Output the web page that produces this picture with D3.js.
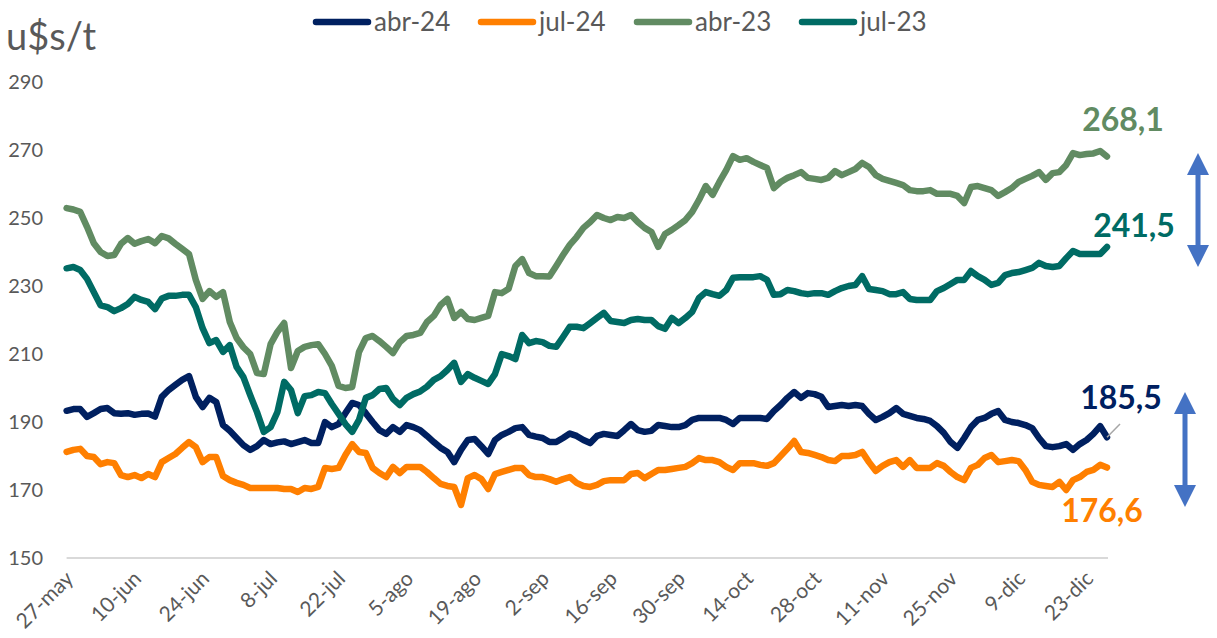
<!DOCTYPE html>
<html><head><meta charset="utf-8">
<script src="https://cdn.jsdelivr.net/npm/d3@7"></script>
<style>body{margin:0;background:#fff} svg{display:block} text{font-family:Lato,"Open Sans",sans-serif}</style>
</head><body><svg id="c" width="1217" height="638"></svg>
<script>
const tickLabels = ["27-may","10-jun","24-jun","8-jul","22-jul","5-ago","19-ago","2-sep","16-sep","30-sep","14-oct","28-oct","11-nov","25-nov","9-dic","23-dic"];
const tickIndex = [0,10,20,30,40,50,60,70,80,90,100,110,120,130,140,150];
const yTicks = [150,170,190,210,230,250,270,290];
const seriesNames = ["abr-24","jul-24","abr-23","jul-23"];
const seriesColors = ["#002060","#FF7F00","#618B62","#006B64"];
const endLabels = ["185,5","176,6","268,1","241,5"];

const abr24 = [193.3,193.8,193.8,191.5,192.6,193.8,194.1,192.6,192.4,192.6,192.1,192.4,192.5,191.6,197.4,199.4,200.9,202.4,203.5,197.4,
194.4,197.1,195.9,189.1,187.4,185.3,183.2,181.8,182.9,184.7,183.5,184.0,184.3,183.5,184.1,184.7,183.8,183.8,190.0,188.5,
189.4,192.6,195.6,195.0,192.6,190.0,187.6,186.5,188.5,187.1,189.1,188.5,187.6,185.9,184.1,182.4,181.2,178.2,181.8,184.7,
185.0,182.9,180.6,184.7,186.2,187.1,188.2,188.5,186.2,185.7,185.3,184.1,184.1,185.3,186.6,185.9,184.7,183.8,185.9,186.5,
186.2,185.9,187.6,189.4,187.6,187.1,187.4,189.1,188.8,188.5,188.5,189.1,190.6,191.2,191.2,191.2,191.2,190.6,189.4,191.2,
191.2,191.2,191.2,190.9,193.2,195.0,197.1,198.8,197.1,198.5,198.2,197.4,194.4,194.7,195.0,194.7,195.0,194.7,192.4,190.6,
191.5,192.6,194.1,192.4,191.8,191.2,190.9,190.3,188.8,186.8,184.1,182.4,185.3,188.5,190.6,191.2,192.4,193.2,190.6,190.0,
189.7,189.1,188.2,185.3,182.9,182.6,182.9,183.5,181.8,183.5,184.7,186.5,188.8,185.5];

const jul24 = [181.2,181.8,182.1,180.0,179.7,177.6,178.2,177.9,174.4,173.8,174.4,173.5,174.7,173.8,178.2,179.4,180.6,182.4,184.1,182.6,
178.2,179.7,179.7,174.1,172.9,172.1,171.5,170.6,170.6,170.6,170.6,170.6,170.3,170.3,169.4,170.6,170.3,170.9,176.5,176.2,
176.5,180.3,183.5,181.2,180.9,176.5,175.0,173.8,176.8,175.0,176.8,176.8,176.8,175.3,173.5,171.8,171.2,170.9,165.6,173.5,
174.4,173.2,170.3,174.7,175.3,175.9,176.5,176.5,174.4,173.8,173.8,173.2,172.4,173.2,173.8,172.1,171.2,170.9,171.5,172.6,
172.9,172.9,172.9,174.7,175.0,173.5,174.7,175.9,175.9,176.2,176.5,176.8,177.9,179.4,178.8,178.8,178.2,176.8,175.9,177.9,
177.9,177.9,177.4,177.1,177.9,180.0,182.1,184.4,181.2,180.9,180.3,179.7,178.8,178.5,180.0,180.0,180.3,181.2,178.2,175.6,
177.1,178.2,178.8,176.8,178.8,176.5,176.5,176.5,177.9,177.1,175.3,173.8,172.9,176.5,177.4,179.4,180.3,178.2,178.5,178.8,
178.5,175.9,172.4,171.5,171.2,170.9,172.4,170.0,172.9,173.8,175.3,175.9,177.4,176.6];

const abr23 = [252.9,252.5,251.8,247.4,242.6,240.0,238.8,239.1,242.4,244.1,242.4,243.2,243.8,242.6,244.7,244.0,242.4,240.9,239.4,231.8,
226.2,228.5,226.8,228.2,219.4,214.7,212.0,210.0,204.4,204.1,212.9,216.5,219.1,205.9,210.9,212.1,212.6,212.9,210.0,206.5,
200.6,200.0,200.3,210.6,214.7,215.3,213.8,212.1,210.3,213.5,215.3,215.6,216.2,219.4,221.2,224.4,226.2,220.6,222.4,220.3,
220.0,220.6,221.2,228.2,227.9,229.2,235.9,237.9,233.8,232.9,232.9,232.8,235.9,239.1,242.1,244.4,247.1,248.8,250.9,250.0,
249.4,250.3,250.0,250.9,248.8,247.1,245.9,241.5,245.3,246.5,247.9,249.4,251.8,255.3,259.4,256.8,260.6,264.1,268.2,267.1,
267.6,266.5,265.6,264.7,258.8,260.6,261.8,262.6,263.5,261.8,261.5,261.2,261.8,263.8,262.6,263.5,264.4,266.2,265.0,262.6,
261.5,260.9,260.3,259.7,258.2,257.9,257.9,258.2,257.1,257.1,257.1,256.5,254.4,259.1,259.4,258.8,258.2,256.5,257.6,258.8,
260.6,261.5,262.4,263.5,261.2,263.2,263.5,265.6,269.1,268.5,268.8,269.0,269.7,268.1];

const jul23 = [235.2,235.6,234.7,232.1,228.2,224.3,223.8,222.6,223.5,224.7,226.8,225.9,225.3,223.2,226.3,227.1,227.1,227.4,227.4,223.8,
217.6,213.2,214.1,210.6,212.6,206.2,203.2,197.9,192.9,187.1,188.5,192.9,201.8,199.4,192.6,197.6,197.9,198.8,198.5,195.3,
192.4,189.4,187.1,190.6,197.1,197.9,199.7,200.0,196.8,195.0,197.1,198.2,199.0,200.4,202.4,203.5,205.3,207.4,201.8,204.1,
203.0,202.1,201.2,204.1,210.0,209.4,208.5,215.6,213.2,213.8,213.5,212.4,212.1,215.0,218.0,218.0,217.6,219.1,220.6,222.1,
219.7,219.4,219.1,220.0,220.3,220.0,220.0,218.2,217.4,220.6,219.1,220.6,222.4,226.5,228.2,227.6,227.1,228.8,232.4,232.6,
232.6,232.6,232.9,231.8,227.4,227.6,228.8,228.5,227.9,227.6,227.9,227.9,227.4,228.5,229.4,230.0,230.3,232.9,229.1,228.8,
228.5,227.6,227.6,228.2,226.2,225.9,225.9,225.9,228.5,229.4,230.6,231.8,231.8,234.4,232.9,231.8,230.3,230.9,233.2,233.8,
234.1,234.7,235.3,236.8,235.9,235.6,235.9,238.2,240.3,239.4,239.4,239.4,239.4,241.5];

const allSeries = [abr24, jul24, abr23, jul23];

const svg = d3.select("#c");
const x = d3.scaleLinear().domain([0, 153]).range([66.6, 1107]);
const y = d3.scaleLinear().domain([150, 290]).range([558, 82]);
const grey = "#595959";

// title
svg.append("text").attr("x", 6).attr("y", 50).attr("font-size", 38).attr("fill", grey).text("u$s/t");

// y tick labels
svg.append("g").selectAll("text").data(yTicks).join("text")
  .attr("x", 43).attr("y", d => y(d)).attr("dy", "0.35em").attr("text-anchor", "end")
  .attr("font-size", 20).attr("fill", grey).text(d => d);

// baseline
svg.append("line").attr("x1", x(0)).attr("x2", 1108).attr("y1", y(150)).attr("y2", y(150))
  .attr("stroke", "#D9D9D9").attr("stroke-width", 2);

// x tick labels
svg.append("g").selectAll("text").data(tickIndex).join("text")
  .attr("transform", (d) => `translate(${x(d) + 8},${580}) rotate(-45)`)
  .attr("text-anchor", "end").attr("font-size", 21).attr("fill", grey)
  .text((d, i) => tickLabels[i]);

// lines
const line = d3.line().x((d, i) => x(i)).y(d => y(d));
allSeries.forEach((s, k) => {
  svg.append("path").datum(s).attr("d", line).attr("fill", "none")
    .attr("stroke", seriesColors[k]).attr("stroke-width", 6.5)
    .attr("stroke-linejoin", "round").attr("stroke-linecap", "round");
});

// leader line for abr-24
svg.append("line").attr("x1", x(153)).attr("y1", y(abr24[153]))
  .attr("x2", 1120).attr("y2", 424).attr("stroke", "#A6A6A6").attr("stroke-width", 1.5);

// end labels
const endPos = [[1121, 398], [1102, 511], [1123, 120], [1134, 226]];
endLabels.forEach((t, k) => {
  svg.append("text").attr("x", endPos[k][0]).attr("y", endPos[k][1]).attr("dy", "0.35em")
    .attr("text-anchor", "middle").attr("font-size", 32).attr("font-weight", "bold")
    .attr("fill", seriesColors[k]).text(t);
});

// legend
const legX = [313, 478, 634, 799];
seriesNames.forEach((n, k) => {
  svg.append("line").attr("x1", legX[k] + 3).attr("x2", legX[k] + 55).attr("y1", 22).attr("y2", 22)
    .attr("stroke", seriesColors[k]).attr("stroke-width", 6.5).attr("stroke-linecap", "round");
  svg.append("text").attr("x", legX[k] + 61).attr("y", 22).attr("dy", "0.35em")
    .attr("font-size", 26).attr("fill", grey).text(n);
});

// double arrows
function dArrow(cx, y1, y2) {
  const hw = 11, hh = 22, sw = 2.5;
  const p = `M${cx},${y1} L${cx + hw},${y1 + hh} L${cx + sw},${y1 + hh} L${cx + sw},${y2 - hh} L${cx + hw},${y2 - hh} L${cx},${y2} L${cx - hw},${y2 - hh} L${cx - sw},${y2 - hh} L${cx - sw},${y1 + hh} L${cx - hw},${y1 + hh} Z`;
  svg.append("path").attr("d", p).attr("fill", "#4472C4");
}
dArrow(1198, 153, 267);
dArrow(1185, 392, 507);
</script></body></html>
